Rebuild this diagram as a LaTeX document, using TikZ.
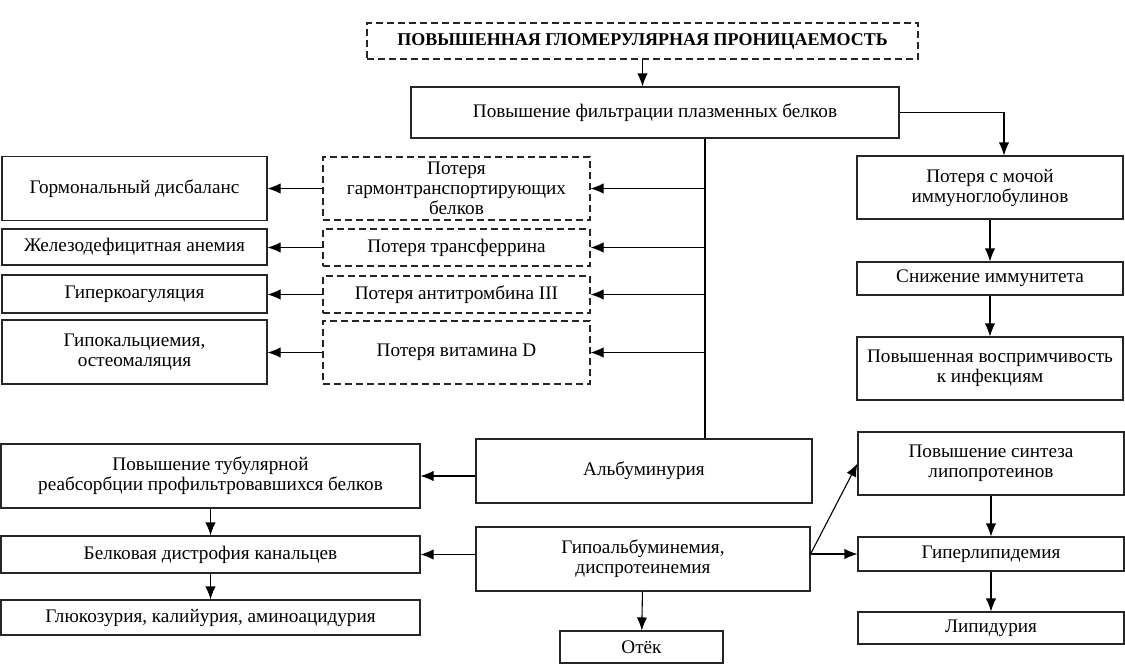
\documentclass[tikz,border=0pt]{standalone}
\usepackage{fontspec}
\setmainfont{Liberation Serif}
\usetikzlibrary{arrows.meta}

\begin{document}
\begin{tikzpicture}[x=0.5pt, y=-0.5pt, line width=0.55pt, >={Latex[length=6.5pt,width=5.2pt]},
  every node/.style={rectangle, draw=black!85, align=center, inner sep=1pt, font=\fontsize{9.6}{10}\selectfont},
  loss/.style={dash pattern=on 3.5pt off 2pt}]
\useasboundingbox (0,0) rectangle (1125,664);

\node[loss, minimum width=275.5pt, minimum height=18pt, font=\bfseries\fontsize{9}{10}\selectfont] (glom) at (642.5,41) {ПОВЫШЕННАЯ ГЛОМЕРУЛЯРНАЯ ПРОНИЦАЕМОСТЬ};
\node[minimum width=244pt, minimum height=25.5pt] (filt) at (655,112.5) {Повышение фильтрации плазменных белков};

% right column
\node[minimum width=133pt, minimum height=31.5pt] (urine) at (990,187.5) {Потеря с мочой\\иммуноглобулинов};
\node[minimum width=133pt, minimum height=16.5pt] (immun) at (990,278.5) {Снижение иммунитета};
\node[minimum width=133pt, minimum height=31.5pt] (infect) at (990,368.5) {Повышенная воспримчивость\\к инфекциям};

% losses
\node[loss, minimum width=133.5pt, minimum height=31.5pt] (lhorm) at (456.5,188.5) {Потеря\\гармонтранспортирующих\\белков};
\node[loss, minimum width=133.5pt, minimum height=18.5pt] (ltransf) at (456.5,247.5) {Потеря трансферрина};
\node[loss, minimum width=133.5pt, minimum height=18.5pt] (lat) at (456.5,294.5) {Потеря антитромбина III};
\node[loss, minimum width=133.5pt, minimum height=31.5pt] (lvitd) at (456.5,352.5) {Потеря витамина D};

% left column
\node[minimum width=132.5pt, minimum height=32pt] (horm) at (134.5,188.5) {Гормональный дисбаланс};
\node[minimum width=132.5pt, minimum height=18pt] (anemia) at (134.5,247) {Железодефицитная анемия};
\node[minimum width=132.5pt, minimum height=19pt] (coag) at (134.5,294) {Гиперкоагуляция};
\node[minimum width=132.5pt, minimum height=32pt] (calc) at (134.5,352) {Гипокальциемия,\\остеомаляция};

% bottom part
\node[minimum width=168pt, minimum height=32pt] (alb) at (644,471) {Альбуминурия};
\node[minimum width=209.5pt, minimum height=32pt] (tub) at (210.5,476) {Повышение тубулярной\\реабсорбции профильтровавшихся белков};
\node[minimum width=209.5pt, minimum height=18.5pt] (dystr) at (210.5,554.5) {Белковая дистрофия канальцев};
\node[minimum width=209.5pt, minimum height=17.5pt] (gluc) at (210.5,617.5) {Глюкозурия, калийурия, аминоацидурия};
\node[minimum width=167pt, minimum height=32pt] (hypo) at (643,559) {Гипоальбуминемия,\\диспротеинемия};
\node[minimum width=81.5pt, minimum height=16pt] (edema) at (641.5,647) {Отёк};
\node[minimum width=133pt, minimum height=31.5pt] (lipsyn) at (991,463.5) {Повышение синтеза\\липопротеинов};
\node[minimum width=133pt, minimum height=17pt] (hyperlip) at (991,554) {Гиперлипидемия};
\node[minimum width=133pt, minimum height=16pt] (lipur) at (991,628) {Липидурия};

\coordinate (tk) at (705,0);
\coordinate (rb) at (1004,0);
\coordinate (hj) at (hyperlip.west -| hypo.east);

\draw[->] (glom.south) -- (glom.south |- filt.north);
\draw (filt.south -| tk) -- (alb.north -| tk);
\draw[->] (lhorm.east -| tk) -- (lhorm.east);
\draw[->] (ltransf.east -| tk) -- (ltransf.east);
\draw[->] (lat.east -| tk) -- (lat.east);
\draw[->] (lvitd.east -| tk) -- (lvitd.east);
\draw[->] (lhorm.west) -- (lhorm.west -| horm.east);
\draw[->] (ltransf.west) -- (ltransf.west -| anemia.east);
\draw[->] (lat.west) -- (lat.west -| coag.east);
\draw[->] (lvitd.west) -- (lvitd.west -| calc.east);
\draw[->] (filt.east) -| (urine.north -| rb);
\draw[->] (urine) -- (immun);
\draw[->] (immun) -- (infect);
\draw[->] (tub.east -| alb.west) -- (tub.east);
\draw[->] (tub) -- (dystr);
\draw[->] (dystr) -- (gluc);
\draw[->] (dystr.east -| hypo.west) -- (dystr.east);
\draw[->] (hypo) -- (edema);
\draw[->] (hj) -- (lipsyn.west);
\draw[->] (hj) -- (hyperlip.west);
\draw[->] (lipsyn) -- (hyperlip);
\draw[->] (hyperlip) -- (lipur);
\end{tikzpicture}
\end{document}
